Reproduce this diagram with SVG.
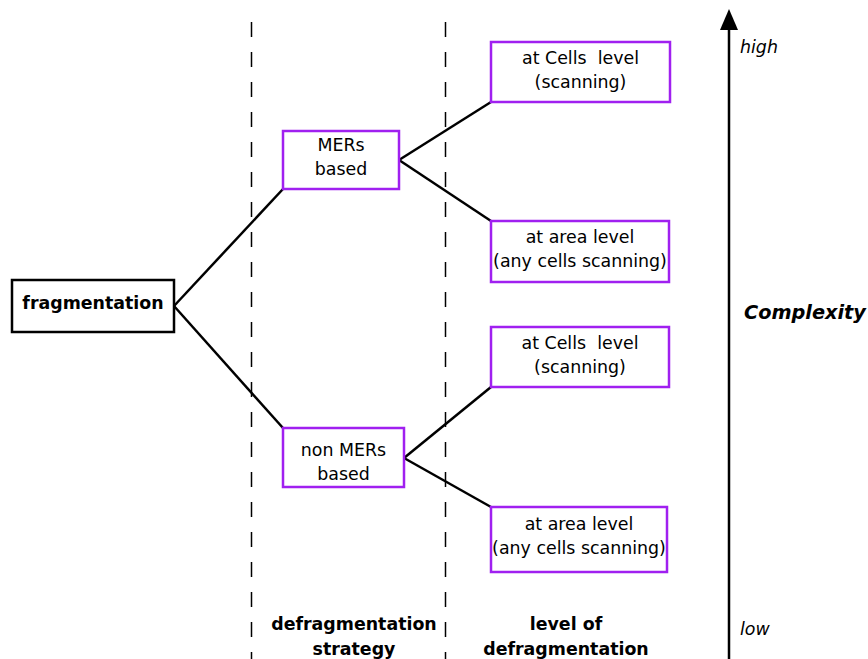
<svg xmlns="http://www.w3.org/2000/svg" width="868" height="659" viewBox="0 0 868 659">
  <style>
    text { font-family: "DejaVu Sans", "Liberation Sans", sans-serif; font-size: 17.4px; fill: #000; text-anchor: middle; }
    .bold { font-weight: bold; }
    .it { font-style: italic; text-anchor: start; }
    .box { fill: #fff; stroke: #a020f0; stroke-width: 2.5; }
    .root { fill: #fff; stroke: #000; stroke-width: 2.5; }
    .link { stroke: #000; stroke-width: 2.5; fill: none; }
    .sep { stroke: #000; stroke-width: 1.5; stroke-dasharray: 15 15; }
  </style>

  <!-- column separators -->
  <g id="separators">
    <line class="sep" x1="251.5" y1="22" x2="251.5" y2="659"/>
    <line class="sep" x1="445.5" y1="22" x2="445.5" y2="659"/>
  </g>

  <!-- tree connectors -->
  <g id="connectors">
    <line class="link" x1="174" y1="306" x2="283" y2="189"/>
    <line class="link" x1="174" y1="306" x2="283" y2="428"/>
    <line class="link" x1="399" y1="160" x2="491" y2="102"/>
    <line class="link" x1="399" y1="160" x2="491" y2="221"/>
    <line class="link" x1="404" y1="458" x2="491" y2="387"/>
    <line class="link" x1="404" y1="458" x2="491" y2="507"/>
  </g>

  <g id="fragmentation">
    <rect class="root" x="12" y="280" width="162" height="52"/>
    <text class="bold" x="93" y="309">fragmentation</text>
  </g>

  <g id="mers-based">
    <rect class="box" x="283" y="131" width="116" height="58"/>
    <text x="341" y="151">MERs</text>
    <text x="341" y="175">based</text>
  </g>

  <g id="non-mers-based">
    <rect class="box" x="283" y="428" width="121" height="59"/>
    <text x="343.5" y="456">non MERs</text>
    <text x="343.5" y="480">based</text>
  </g>

  <g id="mers-cells">
    <rect class="box" x="491" y="42" width="179" height="60"/>
    <text x="580.5" y="64" xml:space="preserve">at Cells  level</text>
    <text x="580.5" y="88">(scanning)</text>
  </g>

  <g id="mers-area">
    <rect class="box" x="491" y="221" width="178" height="61"/>
    <text x="580" y="243">at area level</text>
    <text x="580" y="267">(any cells scanning)</text>
  </g>

  <g id="non-mers-cells">
    <rect class="box" x="491" y="327" width="178" height="60"/>
    <text x="580" y="349" xml:space="preserve">at Cells  level</text>
    <text x="580" y="373">(scanning)</text>
  </g>

  <g id="non-mers-area">
    <rect class="box" x="491" y="507" width="176" height="65"/>
    <text x="579" y="530">at area level</text>
    <text x="579" y="554">(any cells scanning)</text>
  </g>

  <!-- column captions -->
  <g id="captions">
    <text class="bold" x="354" y="630">defragmentation</text>
    <text class="bold" x="354" y="655">strategy</text>
    <text class="bold" x="566" y="630">level of</text>
    <text class="bold" x="566" y="655">defragmentation</text>
  </g>

  <!-- complexity axis -->
  <g id="complexity-axis">
    <line x1="729" y1="659" x2="729" y2="28" stroke="#000" stroke-width="2.5"/>
    <path d="M729,9 L738,30 L720,30 Z" fill="#000"/>
    <text class="it" x="740" y="53">high</text>
    <text class="it" x="740" y="635">low</text>
    <text class="it bold" x="744" y="319" style="font-size:19.3px">Complexity</text>
  </g>
</svg>
